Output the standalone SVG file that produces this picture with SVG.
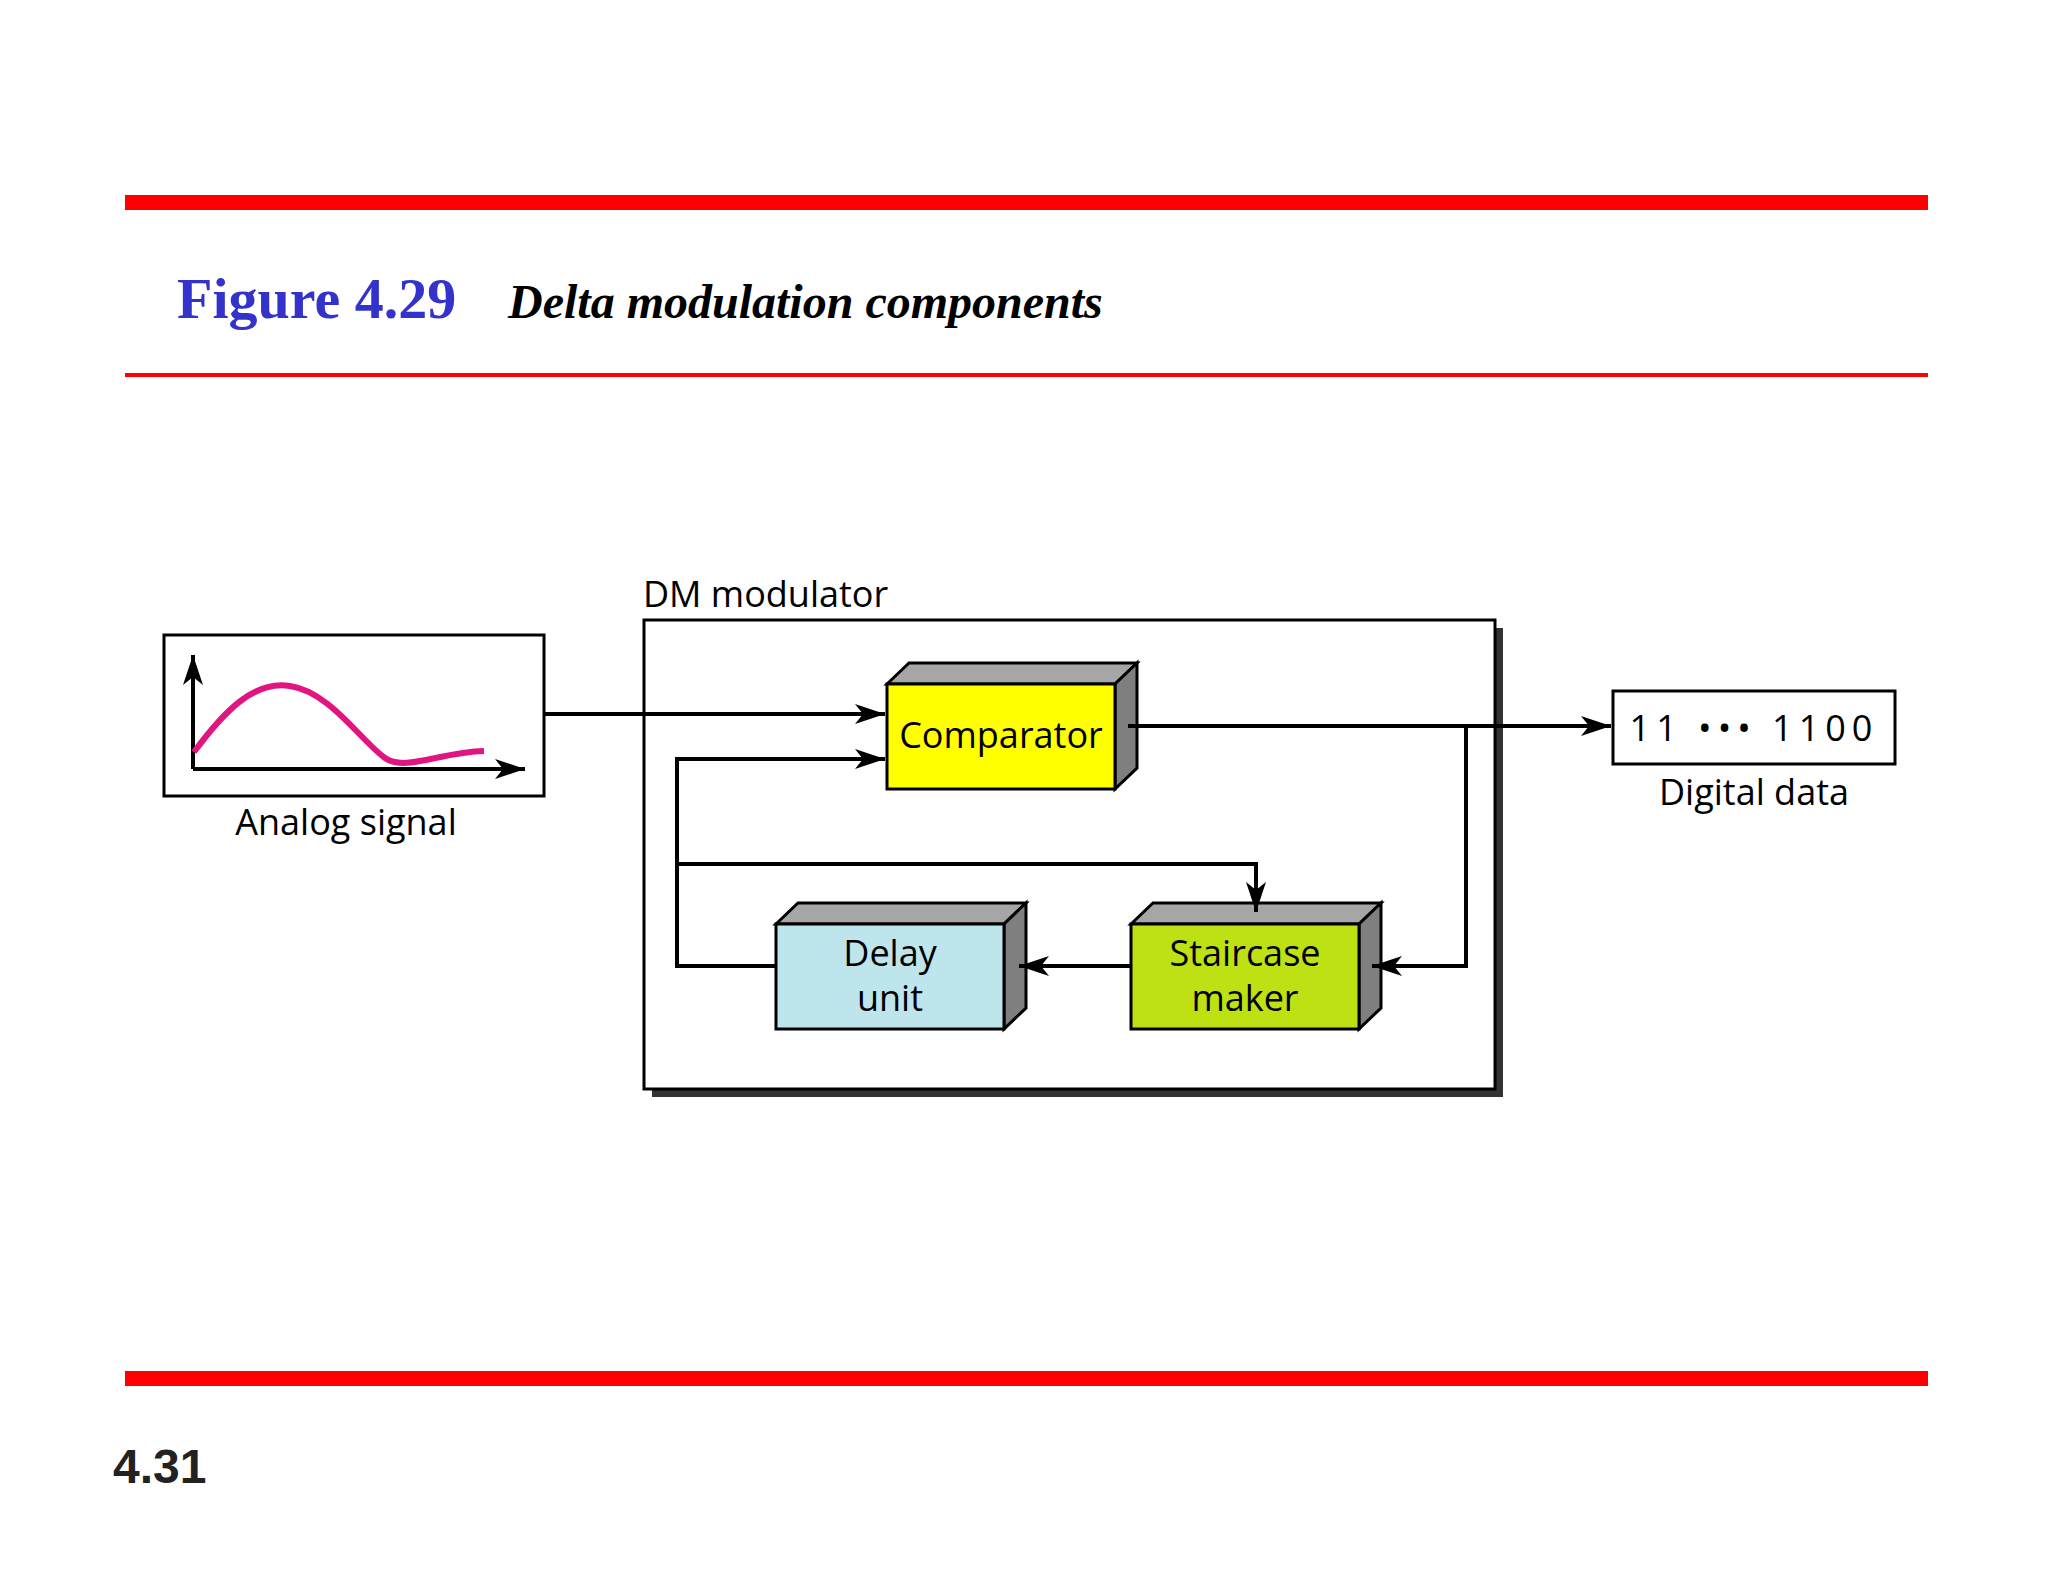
<svg xmlns="http://www.w3.org/2000/svg" width="2048" height="1582" viewBox="0 0 2048 1582">
<style>
.lbl{font-family:"Open Sans","Noto Sans",sans-serif;font-size:36px;fill:#000;text-anchor:middle}
.ln{fill:none;stroke:#000;stroke-width:4}
.front{stroke:#000;stroke-width:3}
.top{fill:#a6a6a6;stroke:#000;stroke-width:3}
.side{fill:#7f7f7f;stroke:#000;stroke-width:3}
</style>
<defs>
<marker id="ah" viewBox="0 0 30 20" refX="30" refY="10" markerWidth="30" markerHeight="20" markerUnits="userSpaceOnUse" orient="auto">
<path d="M0,0 L30,10 L0,20 L8,10 Z" fill="#000"/>
</marker>
</defs>
<rect width="2048" height="1582" fill="#fff"/>
<rect x="125" y="195" width="1803" height="15" fill="#f00"/>
<rect x="125" y="373" width="1803" height="4" fill="#f00"/>
<rect x="125" y="1371" width="1803" height="15" fill="#f00"/>
<text x="177" y="318" font-family="Liberation Serif,serif" font-weight="bold" font-size="58" fill="#3333cc">Figure 4.29</text>
<text x="508" y="318" font-family="Liberation Serif,serif" font-weight="bold" font-style="italic" font-size="48" fill="#000">Delta modulation components</text>
<text x="113" y="1483" font-family="Liberation Sans,sans-serif" font-weight="bold" font-size="48" fill="#222">4.31</text>

<g id="analog">
<rect x="164" y="635" width="380" height="161" fill="#fff" stroke="#000" stroke-width="3"/>
<path class="ln" d="M193,769 V655" stroke-width="3" marker-end="url(#ah)"/>
<path class="ln" d="M193,769 H525" stroke-width="3" marker-end="url(#ah)"/>
<path d="M194,752 C225,710 255,680 290,686 C330,692 360,740 385,758 C405,772 440,752 484,751" fill="none" stroke="#e0157f" stroke-width="6"/>
<text class="lbl" x="346" y="835">Analog signal</text>
</g>

<g id="dm">
<rect x="652" y="628" width="851" height="469" fill="#333"/>
<rect x="644" y="620" width="851" height="469" fill="#fff" stroke="#000" stroke-width="3"/>
<text class="lbl" x="643" y="607" style="text-anchor:start">DM modulator</text>
</g>

<g id="comparator">
<polygon class="top" points="887,684 909,663 1137,663 1115,684"/>
<polygon class="side" points="1115,684 1137,663 1137,768 1115,789"/>
<rect class="front" x="887" y="684" width="228" height="105" fill="#ffff00"/>
<text class="lbl" x="1001" y="748">Comparator</text>
</g>
<g id="delay">
<polygon class="top" points="776,924 798,903 1026,903 1004,924"/>
<polygon class="side" points="1004,924 1026,903 1026,1008 1004,1029"/>
<rect class="front" x="776" y="924" width="228" height="105" fill="#bee4ec"/>
<text class="lbl" x="890" y="966">Delay</text>
<text class="lbl" x="890" y="1011">unit</text>
</g>
<g id="staircase">
<polygon class="top" points="1131,924 1153,903 1381,903 1359,924"/>
<polygon class="side" points="1359,924 1381,903 1381,1008 1359,1029"/>
<rect class="front" x="1131" y="924" width="228" height="105" fill="#bee114"/>
<text class="lbl" x="1245" y="966">Staircase</text>
<text class="lbl" x="1245" y="1011">maker</text>
</g>
<g id="digital">
<rect x="1613" y="691" width="282" height="73" fill="#fff" stroke="#000" stroke-width="3"/>
<text class="lbl" x="1754" y="741" letter-spacing="6">11 ••• 1100</text>
<text class="lbl" x="1754" y="805">Digital data</text>
</g>

<g id="connectors">
<path class="ln" d="M544,714 H885" marker-end="url(#ah)"/>
<path class="ln" d="M776,966 H677 V759 H885" marker-end="url(#ah)"/>
<path class="ln" d="M677,864 H1256 V912" marker-end="url(#ah)"/>
<path class="ln" d="M1128,726 H1611" marker-end="url(#ah)"/>
<path class="ln" d="M1466,726 V966 H1372" marker-end="url(#ah)"/>
<path class="ln" d="M1131,966 H1019" marker-end="url(#ah)"/>
</g>
</svg>
